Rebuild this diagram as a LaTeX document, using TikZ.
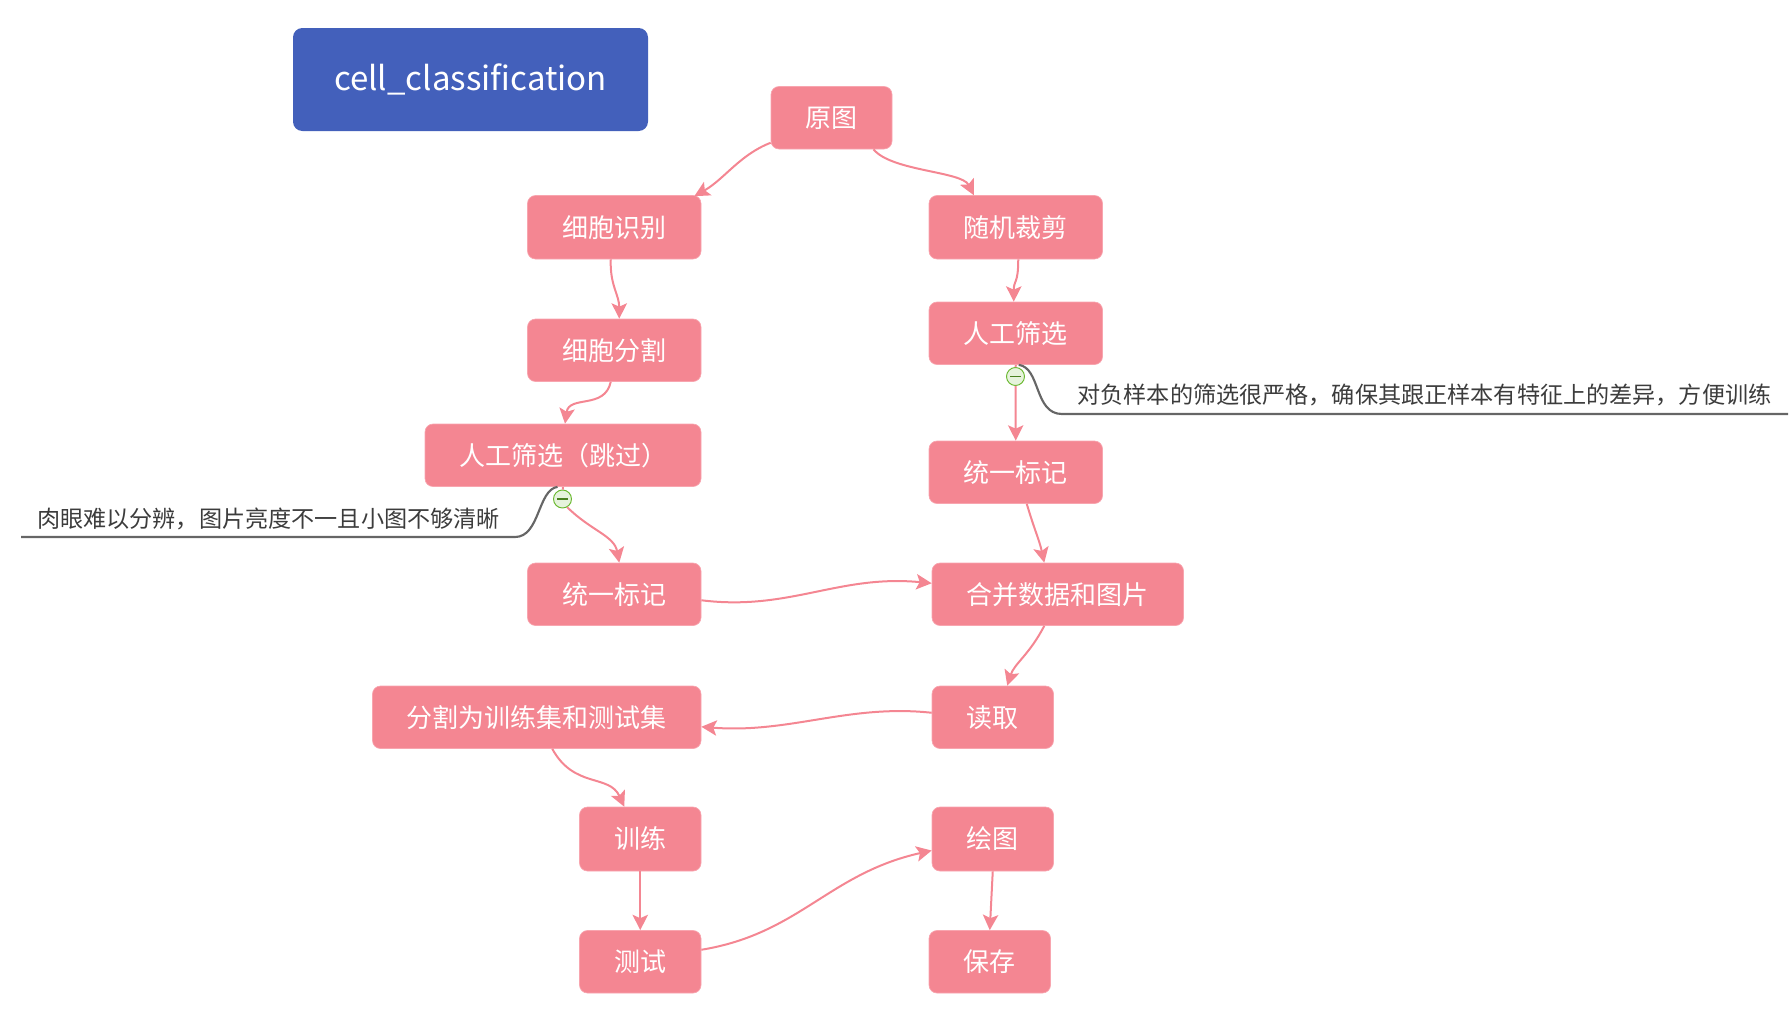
\documentclass[tikz,border=0pt]{standalone}
\usepackage{fontspec}
\setmainfont{Noto Sans CJK SC}
\usetikzlibrary{arrows.meta,calc}
\definecolor{pinkfill}{HTML}{F48692}
\definecolor{pinkedge}{HTML}{F8A5AF}
\definecolor{titleblue}{HTML}{4360BB}
\definecolor{notegray}{HTML}{666666}
\definecolor{notetext}{HTML}{3C3C3C}
\definecolor{foldgreen}{HTML}{69B82E}
\definecolor{foldfill}{HTML}{E6F3DC}
\tikzset{
  pinkbox/.style={draw=pinkedge,line width=0.5pt,fill=pinkfill,rounded corners=6pt,inner sep=0pt,text=white,font=\fontsize{19.5}{22}\selectfont},
  titlebox/.style={fill=titleblue,rounded corners=7pt,inner sep=0pt,text=white,font=\fontsize{24.8}{30}\selectfont},
  flow/.style={draw=pinkfill,line width=1.5pt,-{Stealth[length=11.5pt,width=11.5pt,inset=2.5pt]}},
  flowplain/.style={draw=pinkfill,line width=1.5pt},
  noteline/.style={draw=notegray,line width=1.6pt},
  notelabel/.style={inner sep=0pt,text=notetext,font=\fontsize{17.35}{20}\selectfont},
  foldmark/.style={circle,draw=foldgreen,fill=foldfill,line width=0.7pt,minimum size=13.5pt,inner sep=0pt},
  foldminus/.style={draw=foldgreen!70!black,line width=0.8pt}
}
\newcommand{\bx}[7][pinkbox]{\node[#1,minimum width={(#4-#2)*0.75pt},minimum height={(#5-#3)*0.75pt}] (#6) at ({(#2+#4)/2},{(#3+#5)/2}) {#7};}
\begin{document}
\begin{tikzpicture}[x=0.75pt,y=-0.75pt]
\useasboundingbox (0,0) rectangle (1790,1025);
\bx[titlebox]{293}{28}{648}{131}{title}{\raisebox{-0.8pt}{cell\_classification}}
\bx{771}{86.5}{892}{149}{yt}{原图}
\bx{527.5}{195.5}{701}{259}{sb}{细胞识别}
\bx{527.5}{319}{701}{381.5}{fg}{细胞分割}
\bx{425}{424}{701}{486.5}{tg}{人工筛选（跳过）}
\bx{527.5}{563}{701}{625.5}{bl}{统一标记}
\bx{372.5}{686}{701}{748.5}{jh}{分割为训练集和测试集}
\bx{579.5}{807}{701}{871}{xl}{训练}
\bx{579.5}{930.5}{701}{993}{cs}{测试}
\bx{929}{195.5}{1102.5}{259}{sj}{随机裁剪}
\bx{929}{302}{1102.5}{364.5}{rg}{人工筛选}
\bx{929}{441}{1102.5}{503.5}{br}{统一标记}
\bx{932}{563}{1183.5}{625.5}{hb}{合并数据和图片}
\bx{932}{686}{1053.5}{748.5}{dq}{读取}
\bx{932}{807}{1053.5}{871}{ht}{绘图}
\bx{929}{930.5}{1050.5}{993}{bc}{保存}
% notes
\node[notelabel,anchor=center] (nl) at (268.5,518.5) {肉眼难以分辨，图片亮度不一且小图不够清晰};
\node[notelabel,anchor=center] (nr) at (1424.5,395) {对负样本的筛选很严格，确保其跟正样本有特征上的差异，方便训练};
\coordinate (nlbend) at (515,537);
\coordinate (nlend) at (21,537);
\coordinate (nrbend) at (1062,414);
\coordinate (nrend) at (1788,414);
\draw[noteline] ($(tg.south)+(-5.5,0)$) .. controls +(-20,3) and +(25,0) .. (nlbend) -- (nlend);
\draw[noteline] ($(rg.south)+(3,0)$) .. controls +(22,3) and +(-28,0) .. (nrbend) -- (nrend);
% connectors
\draw[flow] ($(yt.west)+(0,25)$) .. controls +(-31,12) and +(30,-17) .. ($(sb.north east)+(-7,1)$);
\draw[flow] ($(yt.south)+(42,0)$) .. controls +(18,22) and +(-12,-24) .. ($(sj.north)+(-42,0)$);
\draw[flow] ($(sb.south)+(-3.5,0)$) .. controls +(-1,26) and +(0,-24) .. ($(fg.north)+(5,0)$);
\draw[flow] ($(sj.south)+(2.5,0)$) .. controls +(0,25) and +(0,-22) .. ($(rg.north)+(-2,0)$);
\draw[flow] ($(fg.south)+(-3.5,0)$) .. controls +(-6,28) and +(4,-29) .. ($(tg.north)+(2,0)$);
\node[foldmark] (cl) at (562.5,499) {};
\node[foldmark] (cr) at (1015.5,376.5) {};
\draw[flowplain] (tg.south) -- (cl);
\draw[flow] (cl.-60) .. controls +(23,23) and +(-5,-27) .. ($(bl.north)+(5,0)$);
\draw[flowplain] (rg.south) -- (cr);
\draw[flow] (cr.south) -- (br.north);
\draw[flow] ($(br.south)+(11,0)$) .. controls +(8,27) and +(-5,-23) .. ($(hb.north)+(-13.5,0)$);
\draw[flow] ($(bl.east)+(0,6)$) .. controls +(88,11) and +(-93,-9) .. ($(hb.west)+(0,-11)$);
\draw[flow] ($(hb.south)+(-13.5,0)$) .. controls +(-15,29) and +(7,-22) .. ($(dq.north)+(14.5,0)$);
\draw[flow] ($(dq.west)+(0,-4.5)$) .. controls +(-83,-9) and +(88,7) .. ($(jh.east)+(0,9.5)$);
\draw[flow] ($(jh.south)+(15.5,0)$) .. controls +(22,40) and +(-15,-33) .. ($(xl.north)+(-16,0)$);
\draw[flow] (xl.south) -- (cs.north);
\draw[flow] ($(cs.east)+(0,-12)$) .. controls +(98,-16) and +(-103,23) .. ($(ht.west)+(0,11.5)$);
\draw[flow] (ht.south) -- (bc.north);
\draw[foldminus] ($(cl.center)+(-5.5,0)$) -- ($(cl.center)+(5.5,0)$);
\draw[foldminus] ($(cr.center)+(-5.5,0)$) -- ($(cr.center)+(5.5,0)$);
\end{tikzpicture}
\end{document}
